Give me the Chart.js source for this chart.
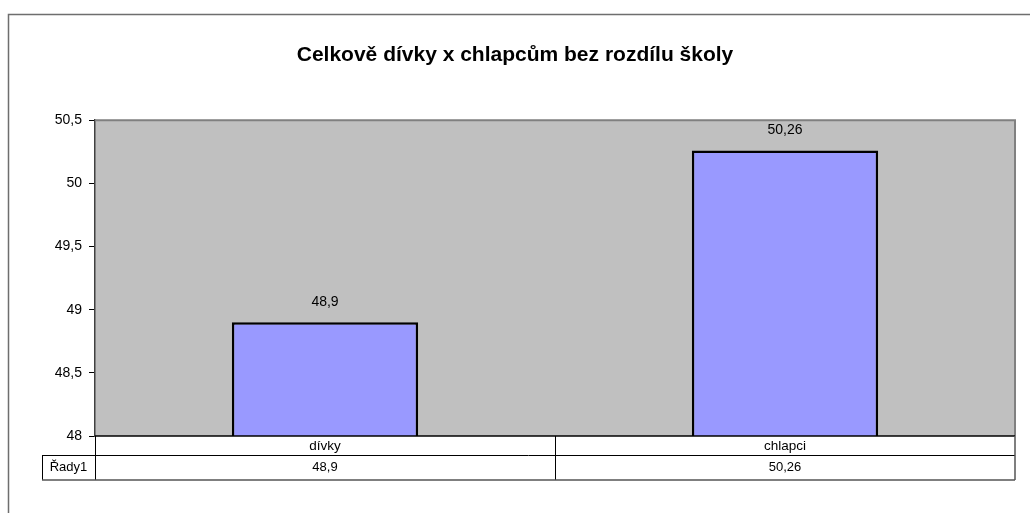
<!DOCTYPE html>
<html>
<head>
<meta charset="utf-8">
<script src="https://cdn.jsdelivr.net/npm/chart.js@4.4.0/dist/chart.umd.min.js"></script>
<style>
  html, body { margin: 0; padding: 0; background: #fff; }
  #wrap { width: 1030px; height: 513px; }
</style>
</head>
<body>
<div id="wrap"><canvas id="chart" width="1030" height="513"></canvas></div>
<script>
// ===== DATA =====
const categories = ["dívky", "chlapci"];
const seriesName = "Řady1";
const values = [48.9, 50.26];
const yTicks = [48, 48.5, 49, 49.5, 50, 50.5];

const FONT = "Liberation Sans, Arial, sans-serif";
const fmt = v => String(v).replace(".", ",");

// ===== PLOT BACKGROUND, FRAME, DATA TABLE, VALUE LABELS =====
const excelLook = {
  id: "excelLook",
  beforeDraw(chart) {
    const { ctx, chartArea: a } = chart;
    ctx.save();
    ctx.fillStyle = "#c0c0c0";
    ctx.fillRect(a.left, a.top, a.right - a.left, a.bottom - a.top);
    // outer chart frame
    ctx.strokeStyle = "#6e6e6e";
    ctx.lineWidth = 1.5;
    ctx.strokeRect(8.5, 14.5, 1100, 600);
    ctx.restore();
  },
  afterDraw(chart) {
    const { ctx, chartArea: a } = chart;
    const x = chart.scales.x;
    const ds = chart.getDatasetMeta(0);
    ctx.save();

    // plot area border: grey top and right
    ctx.strokeStyle = "#808080";
    ctx.lineWidth = 2;
    ctx.beginPath();
    ctx.moveTo(a.left, a.top);
    ctx.lineTo(a.right, a.top);
    ctx.lineTo(a.right, a.bottom);
    ctx.stroke();

    // bottom axis line
    ctx.strokeStyle = "#000";
    ctx.lineWidth = 1.5;
    ctx.beginPath();
    ctx.moveTo(a.left, a.bottom);
    ctx.lineTo(a.right, a.bottom);
    ctx.stroke();

    // value labels above bars
    ctx.fillStyle = "#000";
    ctx.font = "14px " + FONT;
    ctx.textAlign = "center";
    ctx.textBaseline = "middle";
    ds.data.forEach((bar, i) => {
      ctx.fillText(fmt(values[i]), bar.x, bar.y - 20);
    });

    // data table under the plot
    const row1 = a.bottom, row2 = a.bottom + 19, row3 = a.bottom + 44;
    const tableLeft = 42;
    ctx.fillStyle = "#fff";
    ctx.fillRect(a.left, row1 + 1, a.right - a.left, row3 - row1 - 1);
    ctx.fillRect(tableLeft, row2, a.left - tableLeft, row3 - row2);

    ctx.strokeStyle = "#000";
    ctx.lineWidth = 1;
    ctx.beginPath();
    ctx.moveTo(tableLeft, row2 + 0.5);
    ctx.lineTo(a.right, row2 + 0.5);
    ctx.moveTo(tableLeft + 0.5, row2);
    ctx.lineTo(tableLeft + 0.5, row3);
    ctx.moveTo(a.left + 0.5, row1);
    ctx.lineTo(a.left + 0.5, row3);
    const edges = [];
    for (let i = 1; i < categories.length; i++) {
      edges.push((x.getPixelForValue(i - 1) + x.getPixelForValue(i)) / 2);
    }
    edges.forEach(ex => {
      ctx.moveTo(Math.round(ex) + 0.5, row1);
      ctx.lineTo(Math.round(ex) + 0.5, row3);
    });
    ctx.stroke();

    ctx.strokeStyle = "#555";
    ctx.lineWidth = 1.5;
    ctx.beginPath();
    ctx.moveTo(tableLeft, row3);
    ctx.lineTo(a.right, row3);
    ctx.moveTo(a.right, row1);
    ctx.lineTo(a.right, row3);
    ctx.stroke();

    ctx.fillStyle = "#000";
    ctx.font = "13.5px " + FONT;
    categories.forEach((c, i) => {
      ctx.fillText(c, x.getPixelForValue(i), (row1 + row2) / 2 + 1);
    });
    ctx.font = "13px " + FONT;
    values.forEach((v, i) => {
      ctx.fillText(fmt(v), x.getPixelForValue(i), (row2 + row3) / 2);
    });
    ctx.fillText(seriesName, (tableLeft + a.left) / 2, (row2 + row3) / 2);

    ctx.restore();
  }
};

// ===== CHART =====
const ctx = document.getElementById("chart").getContext("2d");
new Chart(ctx, {
  type: "bar",
  data: {
    labels: categories,
    datasets: [{
      label: seriesName,
      data: values,
      backgroundColor: "#9999ff",
      borderColor: "#000",
      borderWidth: 2.5,
      borderSkipped: false,
      barPercentage: 0.405,
      categoryPercentage: 1,
    }],
  },
  options: {
    responsive: false,
    animation: false,
    layout: {
      padding: { left: 15, right: 15, top: 0, bottom: 77 },
    },
    scales: {
      x: {
        display: false,
      },
      y: {
        min: yTicks[0],
        max: yTicks[yTicks.length - 1],
        afterFit: s => { s.width = 80; },
        afterBuildTicks: s => { s.ticks = yTicks.map(v => ({ value: v })); },
        ticks: {
          color: "#000",
          padding: 7,
          font: { family: FONT, size: 14 },
          callback: v => fmt(v),
        },
        grid: {
          drawOnChartArea: false,
          tickLength: 6,
          color: "#000",
        },
        border: { color: "#404040", width: 1.5 },
      },
    },
    plugins: {
      legend: { display: false },
      tooltip: { enabled: false },
      title: {
        display: true,
        text: "Celkově dívky x chlapcům bez rozdílu školy",
        color: "#000",
        font: { family: FONT, size: 21, weight: "bold" },
        padding: { top: 43, bottom: 52 },
      },
    },
  },
  plugins: [excelLook],
});
</script>
</body>
</html>
